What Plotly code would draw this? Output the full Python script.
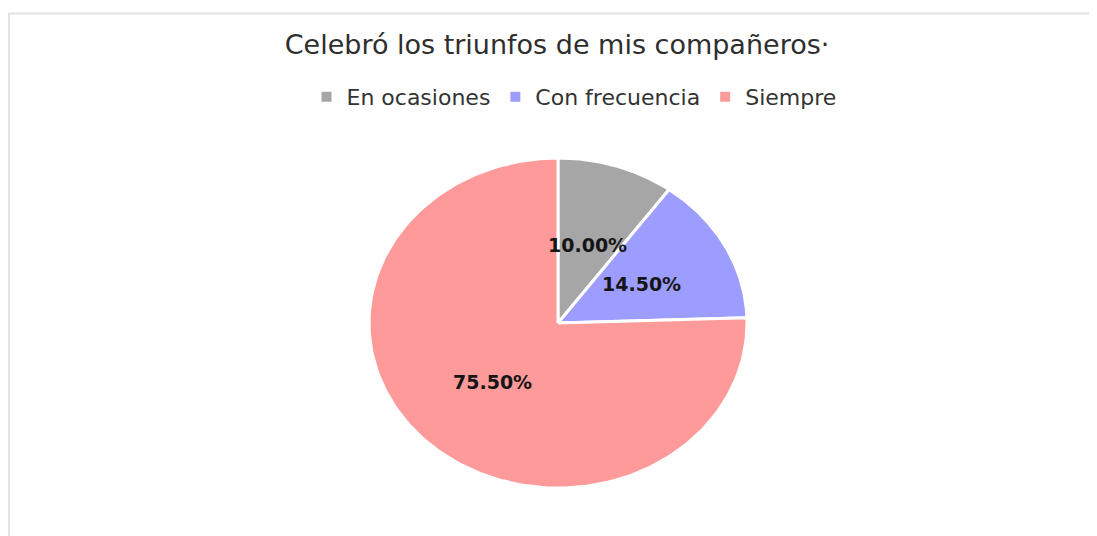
import numpy as np
import plotly.graph_objects as go

# data
categories = ["En ocasiones", "Con frecuencia", "Siempre"]
values = [10.0, 14.5, 75.5]
colors = ["#a6a6a6", "#9d9dff", "#ff9a9a"]
title = "Celebró los triunfos de mis compañeros·"

# page body has an 8px margin, so figure is drawn 8px in and sized to fit the window
OFF = 8
W, H = 1097 - OFF, 536 - OFF
cx, cy = 558 - OFF, 323 - OFF   # pie centre in px (from top of figure)
rx, ry = 189, 165               # slightly squashed, like the source picture

fig = go.Figure()

total = sum(values)
start = 90.0
for name, val, col in zip(categories, values, colors):
    sweep = 360.0 * val / total
    ang = np.radians(np.linspace(start, start - sweep, 200))
    xs = np.concatenate([[0], np.cos(ang), [0]])
    ys = np.concatenate([[0], np.sin(ang), [0]])
    fig.add_trace(go.Scatter(x=xs, y=ys, mode="lines", fill="toself", fillcolor=col,
                             line=dict(color="white", width=3), hoverinfo="skip",
                             showlegend=False, name=name))
    mid = np.radians(start - sweep / 2)
    fig.add_annotation(x=0.5 * np.cos(mid), y=0.5 * np.sin(mid), text="<b>%.2f%%</b>" % val,
                       showarrow=False, font=dict(family="DejaVu Sans", size=19, color="#151515"))
    start -= sweep

# legend entries
for name, col in zip(categories, colors):
    fig.add_trace(go.Scatter(x=[None], y=[None], mode="markers", name=name,
                             marker=dict(symbol="square", size=10, color=col)))

fig.update_layout(
    width=W, height=H,
    margin=dict(l=0, r=0, t=0, b=0),
    paper_bgcolor="white", plot_bgcolor="white",
    font=dict(family="DejaVu Sans, Liberation Sans, Arial, sans-serif", color="#333333"),
    title=dict(text=title, x=(557 - OFF) / W, y=1 - (45 - OFF) / H, xanchor="center", yanchor="middle",
               font=dict(size=27, color="#2e2e2e")),
    legend=dict(orientation="h", x=(574 - OFF) / W, y=1 - (97 - OFF) / H, xanchor="center", yanchor="middle",
                font=dict(size=22, color="#333333"), itemclick=False),
    xaxis=dict(domain=[(cx - rx) / W, (cx + rx) / W], range=[-1, 1], visible=False, fixedrange=True),
    yaxis=dict(domain=[(H - cy - ry) / H, (H - cy + ry) / H], range=[-1, 1], visible=False, fixedrange=True),
    shapes=[dict(type="rect", xref="paper", yref="paper", x0=(9 - OFF) / W, x1=1.02, y0=-0.02,
                 y1=1 - (13.5 - OFF) / H, line=dict(color="#e2e2e2", width=2), layer="below")],
)

fig.write_html("out.html")
